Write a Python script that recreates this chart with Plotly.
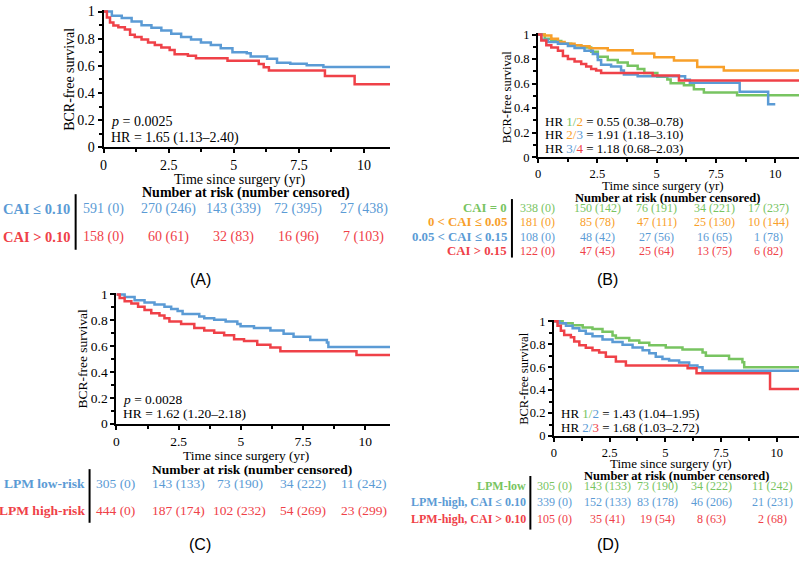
import plotly.graph_objects as go

# ---------------- data ----------------
# Panel A: CAI <= 0.10 (blue) vs CAI > 0.10 (red)
A_low_t = [0, 0.32, 0.7, 1.08, 1.46, 1.84, 2.22, 2.6, 2.98, 3.36, 3.74, 4.12, 4.5, 4.95, 5.5, 5.65, 6.28, 6.66, 7.17, 7.8, 8.44, 11.0]
A_low_s = [1.0, 0.97, 0.952, 0.926, 0.90, 0.88, 0.86, 0.837, 0.813, 0.794, 0.772, 0.753, 0.73, 0.70, 0.693, 0.67, 0.652, 0.623, 0.616, 0.604, 0.592, 0.592]
A_high_t = [0, 0.13, 0.25, 0.38, 0.57, 0.82, 1.02, 1.2, 1.46, 1.71, 1.97, 2.22, 2.54, 2.73, 3.24, 3.55, 4.76, 5.96, 6.15, 6.35, 8.5, 9.64, 11.0]
A_high_s = [1.0, 0.957, 0.92, 0.897, 0.885, 0.868, 0.83, 0.813, 0.794, 0.772, 0.753, 0.736, 0.717, 0.686, 0.674, 0.657, 0.638, 0.614, 0.59, 0.566, 0.525, 0.465, 0.465]

# Panel B: four CAI groups
B_g1_t = [0, 0.28, 0.56, 0.98, 1.4, 1.82, 2.24, 2.52, 2.94, 3.36, 3.78, 4.2, 4.48, 5.03, 5.45, 5.59, 6.15, 6.57, 6.99, 8.39, 11.0]
B_g1_s = [1.0, 0.966, 0.947, 0.926, 0.912, 0.894, 0.86, 0.82, 0.793, 0.772, 0.745, 0.719, 0.687, 0.655, 0.634, 0.602, 0.586, 0.554, 0.528, 0.505, 0.505]
B_g2_t = [0, 0.28, 0.56, 0.84, 1.12, 1.54, 1.82, 2.17, 2.94, 3.99, 4.9, 5.73, 6.71, 7.83, 11.0]
B_g2_s = [1.0, 0.992, 0.966, 0.94, 0.926, 0.912, 0.905, 0.889, 0.873, 0.846, 0.814, 0.788, 0.735, 0.706, 0.706]
B_g3_t = [0, 0.14, 0.42, 0.84, 1.26, 1.54, 1.96, 2.31, 2.52, 2.66, 3.08, 3.5, 3.62, 4.2, 6.2, 6.4, 8.5, 9.7, 10.0]
B_g3_s = [1.0, 0.958, 0.939, 0.926, 0.907, 0.891, 0.867, 0.841, 0.793, 0.753, 0.74, 0.706, 0.675, 0.66, 0.632, 0.607, 0.533, 0.432, 0.432]
B_g4_t = [0, 0.14, 0.35, 0.56, 0.84, 1.05, 1.26, 1.54, 1.82, 2.03, 2.24, 2.45, 2.66, 4.83, 5.94, 11.0]
B_g4_s = [1.0, 0.952, 0.912, 0.894, 0.867, 0.825, 0.80, 0.78, 0.76, 0.74, 0.719, 0.706, 0.687, 0.666, 0.625, 0.625]

# Panel C: LPM low-risk (blue) vs high-risk (red)
C_low_t = [0, 0.33, 0.73, 1.13, 1.53, 1.93, 2.2, 2.46, 2.66, 3.33, 3.53, 3.93, 4.39, 4.86, 4.99, 5.53, 6.19, 6.72, 7.12, 7.79, 8.46, 8.52, 11.0]
C_low_s = [1.0, 0.98, 0.955, 0.937, 0.922, 0.904, 0.887, 0.872, 0.849, 0.829, 0.816, 0.804, 0.791, 0.771, 0.753, 0.741, 0.721, 0.696, 0.673, 0.648, 0.628, 0.593, 0.593]
C_high_t = [0, 0.13, 0.33, 0.6, 0.87, 1.13, 1.4, 1.73, 1.93, 2.13, 2.6, 3.13, 3.53, 3.93, 4.33, 4.73, 5.13, 5.66, 6.19, 6.59, 9.65, 11.0]
C_high_s = [1.0, 0.972, 0.947, 0.93, 0.904, 0.879, 0.854, 0.836, 0.816, 0.791, 0.771, 0.741, 0.721, 0.703, 0.683, 0.653, 0.64, 0.61, 0.59, 0.56, 0.532, 0.532]

# Panel D: LPM-low (green), LPM-high CAI<=0.10 (blue), LPM-high CAI>0.10 (red)
D_g1_t = [0, 0.39, 0.84, 1.29, 1.73, 2.18, 2.63, 2.78, 3.38, 3.83, 4.28, 5.02, 5.77, 6.67, 6.82, 7.86, 8.46, 8.54, 11.0]
D_g1_s = [1.0, 0.983, 0.966, 0.946, 0.932, 0.909, 0.875, 0.853, 0.833, 0.813, 0.79, 0.77, 0.754, 0.728, 0.70, 0.671, 0.643, 0.598, 0.598]
D_g2_t = [0, 0.24, 0.54, 0.84, 1.14, 1.43, 1.73, 2.18, 2.63, 3.08, 3.53, 3.98, 4.28, 4.57, 4.87, 5.17, 5.62, 6.07, 6.44, 6.67, 11.0]
D_g2_s = [1.0, 0.983, 0.96, 0.938, 0.918, 0.89, 0.87, 0.841, 0.819, 0.796, 0.77, 0.748, 0.72, 0.691, 0.671, 0.657, 0.64, 0.615, 0.598, 0.568, 0.568]
D_g3_t = [0, 0.16, 0.31, 0.46, 0.76, 0.91, 1.14, 1.43, 1.73, 2.03, 2.33, 2.78, 3.23, 6.0, 6.4, 9.7, 11.0]
D_g3_s = [1.0, 0.96, 0.918, 0.881, 0.861, 0.824, 0.79, 0.768, 0.748, 0.728, 0.691, 0.649, 0.614, 0.59, 0.546, 0.41, 0.41]

# Risk tables
A_labels = ["CAI \u2264 0.10", "CAI > 0.10"]
A_risk = [["591 (0)", "270 (246)", "143 (339)", "72 (395)", "27 (438)"],
          ["158 (0)", "60 (61)", "32 (83)", "16 (96)", "7 (103)"]]
B_labels = ["CAI = 0", "0 < CAI \u2264 0.05", "0.05 < CAI \u2264 0.15", "CAI > 0.15"]
B_risk = [["338 (0)", "150 (142)", "76 (191)", "34 (221)", "17 (237)"],
          ["181 (0)", "85 (78)", "47 (111)", "25 (130)", "10 (144)"],
          ["108 (0)", "48 (42)", "27 (56)", "16 (65)", "1 (78)"],
          ["122 (0)", "47 (45)", "25 (64)", "13 (75)", "6 (82)"]]
C_labels = ["LPM low-risk", "LPM high-risk"]
C_risk = [["305 (0)", "143 (133)", "73 (190)", "34 (222)", "11 (242)"],
          ["444 (0)", "187 (174)", "102 (232)", "54 (269)", "23 (299)"]]
D_labels = ["LPM-low", "LPM-high, CAI \u2264 0.10", "LPM-high, CAI > 0.10"]
D_risk = [["305 (0)", "143 (133)", "73 (190)", "34 (222)", "11 (242)"],
          ["339 (0)", "152 (133)", "83 (178)", "46 (206)", "21 (231)"],
          ["105 (0)", "35 (41)", "19 (54)", "8 (63)", "2 (68)"]]

# ---------------- style ----------------
BLUE = "#5b9bd5"
RED = "#ef4148"
GREEN = "#78c461"
ORANGE = "#f8a02a"
SERIF = "Liberation Serif, Times New Roman, serif"
SANS = "Liberation Sans, Arial, sans-serif"
W, H = 800, 561


def px(x):
    return x / W


def py(y):
    return 1 - y / H


fig = go.Figure()

# panel geometry in pixels: x0 (t=0), x1 (t=11), y0 (S=0), y1 (S=1)
panels = {
    "A": dict(x0=100, x1=388, y0=145, y1=5.7, ax="", fs=14),
    "B": dict(x0=536.7, x1=799, y0=155, y1=29.3, ax="2", fs=12.5),
    "C": dict(x0=113, x1=388, y0=428.3, y1=295.8, ax="3", fs=13.5),
    "D": dict(x0=552.7, x1=799, y0=441, y1=323.3, ax="4", fs=12.5),
}

series = {
    "A": [(A_low_t, A_low_s, BLUE), (A_high_t, A_high_s, RED)],
    "B": [(B_g1_t, B_g1_s, GREEN), (B_g2_t, B_g2_s, ORANGE), (B_g3_t, B_g3_s, BLUE), (B_g4_t, B_g4_s, RED)],
    "C": [(C_low_t, C_low_s, BLUE), (C_high_t, C_high_s, RED)],
    "D": [(D_g1_t, D_g1_s, GREEN), (D_g2_t, D_g2_s, BLUE), (D_g3_t, D_g3_s, RED)],
}

layout_axes = {}
YTOP = 1.012
for key, p in panels.items():
    ax = p["ax"]
    ytop_px = p["y0"] - (p["y0"] - p["y1"]) * YTOP
    xdom = [px(p["x0"]), px(p["x1"])]
    ydom = [py(p["y0"]), py(ytop_px)]
    common = dict(showgrid=False, zeroline=False, showline=True, linecolor="black",
                  linewidth=2, ticks="outside", ticklen=4, tickwidth=1.5, tickcolor="black",
                  tickfont=dict(family=SERIF, size=p["fs"], color="black"))
    layout_axes["xaxis" + ax] = dict(domain=xdom, range=[0, 11], tick0=0, dtick=2.5,
                                     anchor="y" + ax,
                                     minor=dict(dtick=1.25, tick0=0, ticks="outside", ticklen=3,
                                                tickwidth=1.5, tickcolor="black"),
                                     **common)
    layout_axes["yaxis" + ax] = dict(domain=ydom, range=[0, YTOP], tick0=0, dtick=0.2,
                                     anchor="x" + ax,
                                     minor=dict(dtick=0.1, tick0=0, ticks="outside", ticklen=3,
                                                tickwidth=1.5, tickcolor="black"),
                                     **common)
    for t, s, c in series[key]:
        fig.add_trace(go.Scatter(x=t, y=s, mode="lines", xaxis="x" + ax, yaxis="y" + ax,
                                 line=dict(shape="hv", color=c, width=2.5),
                                 hoverinfo="skip", showlegend=False))

fig.update_layout(**layout_axes)

ann = []


def text(x, y, s, size, color="black", xanchor="center", family=SERIF, angle=0):
    ann.append(dict(x=px(x), y=py(y), xref="paper", yref="paper", text=s, showarrow=False,
                    xanchor=xanchor, yanchor="middle", textangle=angle,
                    font=dict(family=family, size=size, color=color)))


# axis titles and table headers
text(65, 75, "BCR-free survival", 14, angle=-90)
text(237, 178, "Time since surgery (yr)", 14)
text(243, 192, "<b>Number at risk (number censored)</b>", 14)

text(505, 93, "BCR-free survival", 12.5, angle=-90)
text(662, 184, "Time since surgery (yr)", 13)
text(667, 197, "<b>Number at risk (number censored)</b>", 12.5)

text(79, 362, "BCR-free survival", 13.5, angle=-90)
text(243, 461, "Time since surgery (yr)", 13.5)
text(249, 475, "<b>Number at risk (number censored)</b>", 13.5)

text(523, 382, "BCR-free survival", 12.5, angle=-90)
text(670, 469, "Time since surgery (yr)", 13)
text(676, 482, "<b>Number at risk (number censored)</b>", 12.5)

# in-plot statistics
text(106, 118, "<i>p</i> = 0.0025", 14, xanchor="left")
text(106, 135, "HR = 1.65 (1.13\u20132.40)", 14, xanchor="left")


def pair(a, ca, b, cb):
    return (f"HR <span style='color:{ca}'>{a}</span><span style='color:{ca}'>/</span>"
            f"<span style='color:{cb}'>{b}</span>")


text(542, 118, pair(1, GREEN, 2, ORANGE) + " = 0.55 (0.38\u20130.78)", 13, xanchor="left")
text(542, 132, pair(2, ORANGE, 3, BLUE) + " = 1.91 (1.18\u20133.10)", 13, xanchor="left")
text(542, 146, pair(3, BLUE, 4, RED) + " = 1.18 (0.68\u20132.03)", 13, xanchor="left")

text(118, 404, "<i>p</i> = 0.0028", 13.5, xanchor="left")
text(118, 418, "HR = 1.62 (1.20\u20132.18)", 13.5, xanchor="left")

text(558, 418, pair(1, GREEN, 2, BLUE) + " = 1.43 (1.04\u20131.95)", 13, xanchor="left")
text(558, 432, pair(2, BLUE, 3, RED) + " = 1.68 (1.03\u20132.72)", 13, xanchor="left")

# risk tables: labels, values, colours, label right edge, row y, column centres,
# label font, number font, separator x, separator y range
tables = [
    (A_labels, A_risk, [BLUE, RED], 68.5, [208, 237], [100, 165.5, 230.7, 295.8, 361.8], 14.5, 14,
     72, 193, 250),
    (B_labels, B_risk, [GREEN, ORANGE, BLUE, RED], 508, [207, 222, 237, 251],
     [536.5, 596.7, 655.8, 714.2, 768.5], 12.8, 12, 510.5, 198, 258),
    (C_labels, C_risk, [BLUE, RED], 83, [490, 517], [112.5, 175, 236.7, 300.5, 362.3], 13.5, 13.5,
     86, 475, 530),
    (D_labels, D_risk, [GREEN, BLUE, RED], 526.5, [492, 509, 525.7], [553.3, 607, 657, 711, 772], 12, 12,
     529, 482, 537),
]
shapes = []
for labels, risk, cols, lx, rows, colx, lfs, nfs, bx, by0, by1 in tables:
    for lab, vals, c, ry in zip(labels, risk, cols, rows):
        text(lx, ry, f"<b>{lab}</b>", lfs, color=c, xanchor="right")
        for v, cx in zip(vals, colx):
            text(cx, ry, v, nfs, color=c)
    shapes.append(dict(type="line", xref="paper", yref="paper", x0=px(bx), x1=px(bx),
                       y0=py(by0), y1=py(by1), line=dict(color="black", width=2)))

# panel letters
text(197, 280, "(A)", 16, family=SANS)
text(607, 280, "(B)", 16, family=SANS)
text(197, 552, "(C)", 16, family=SANS)
text(607, 552, "(D)", 16, family=SANS)

fig.update_layout(width=W, height=H, margin=dict(l=0, r=0, t=0, b=0),
                  paper_bgcolor="white", plot_bgcolor="white", showlegend=False,
                  annotations=ann, shapes=shapes)

fig.write_html("out.html", config={"displayModeBar": False},
               post_script="document.body.style.margin='0px';")
